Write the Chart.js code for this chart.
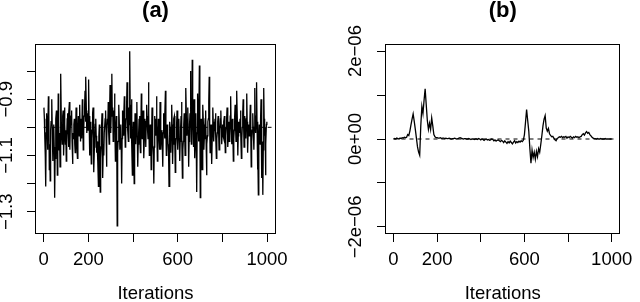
<!DOCTYPE html>
<html><head><meta charset="utf-8">
<script src="https://cdn.jsdelivr.net/npm/chart.js@4.4.1/dist/chart.umd.min.js"></script>
<style>
html,body{margin:0;padding:0;background:#fff;}
#wrap{position:relative;width:640px;height:302px;overflow:hidden;background:#fff;}
.pane{position:absolute;top:0;width:320px;height:302px;}
</style></head><body>
<div id="wrap">
<div class="pane" style="left:0"><canvas id="ca" width="320" height="302"></canvas></div>
<div class="pane" style="left:320px"><canvas id="cb" width="320" height="302"></canvas></div>
</div>
<script>
// ---- data ----
const panelTitles = ['(a)', '(b)'];
const xTitle = 'Iterations';
const xTickValues = [0, 200, 400, 600, 800, 1000];
const xTickLabels = ['0', '200', '', '600', '', '1000'];
const yTickValuesA = [-1.3, -1.2, -1.1, -1.0, -0.9, -0.8];
const yTickLabelsA = ['\u22121.3', '', '\u22121.1', '', '\u22120.9', ''];
const yTickValuesB = [-2e-6, -1e-6, 0, 1e-6, 2e-6];
const yTickLabelsB = ['\u22122e\u221206', '', '0e+00', '', '2e\u221206'];
const meanA = -1.0;
const meanB = 0;
// panel (a): value every 2nd iteration, starting at iteration 1
const iterStartA = 1, iterStepA = 2;
const traceA = [
 -0.93,-0.97,-1.04,-1.10,-1.21,-1.02,-0.95,-0.99,-1.08,-1.03,-0.89,-0.96,-1.15,-1.06,-1.19,-1.01,-0.98,-0.92,-0.90,-1.04,
 -1.12,-1.00,-0.99,-1.07,-1.25,-1.11,-1.05,-0.97,-0.94,-1.03,-1.17,-1.09,-0.88,-0.98,-1.08,-1.02,-1.14,-0.95,-0.81,-0.99,
 -1.03,-1.06,-0.96,-0.94,-1.10,-1.04,-0.93,-0.99,-1.06,-1.01,-1.12,-1.03,-0.97,-0.95,-1.02,-1.07,-0.95,-0.91,-1.08,-1.00,
 -1.00,-0.96,-0.94,-1.05,-1.13,-1.02,-1.04,-0.99,-0.97,-1.06,-1.09,-1.01,-0.93,-0.98,-1.06,-1.11,-1.01,-0.96,-0.98,-1.03,
 -0.92,-1.00,-1.05,-0.97,-0.99,-1.04,-0.90,-0.95,-1.08,-1.01,-0.96,-0.93,-0.87,-0.98,-0.82,-0.94,-1.02,-0.97,-0.95,-1.01,
 -0.83,-0.96,-1.10,-1.02,-0.98,-1.06,-1.13,-1.04,-1.01,-0.95,-0.93,-1.00,-1.16,-1.07,-1.04,-0.99,-0.97,-1.03,-1.09,-1.05,
 -1.05,-1.12,-1.21,-1.03,-0.99,-1.08,-1.23,-1.11,-1.07,-1.00,-0.95,-1.04,-1.18,-1.06,-1.10,-1.02,-1.02,-0.97,-0.94,-1.01,
 -1.14,-1.04,-0.97,-0.99,-0.91,-1.02,-1.06,-0.95,-0.85,-0.98,-1.02,-0.93,-0.81,-0.96,-0.93,-1.05,-1.00,-0.94,-0.88,-0.97,
 -1.12,-1.01,-0.96,-1.04,-1.35,-1.09,-1.05,-0.97,-0.92,-1.00,-1.08,-1.03,-0.99,-1.06,-1.20,-1.04,-0.94,-0.99,-1.03,-0.97,
 -0.89,-0.98,-1.07,-1.02,-0.97,-0.93,-0.84,-0.96,-1.01,-1.05,-0.93,-0.99,-0.73,-0.92,-1.04,-0.98,-0.90,-1.06,-1.17,-1.03,
 -0.98,-1.07,-1.20,-1.05,-0.95,-1.00,-1.06,-0.99,-0.91,-1.03,-1.14,-1.06,-1.02,-0.97,-0.96,-1.04,-1.09,-1.01,-0.88,-0.97,
 -1.04,-0.99,-0.94,-1.02,-1.11,-1.03,-0.97,-1.00,-1.07,-0.98,-0.92,-0.96,-1.01,-1.04,-0.84,-0.95,-1.10,-1.03,-0.99,-1.02,
 -1.15,-1.04,-0.93,-0.98,-1.06,-1.10,-1.20,-1.07,-0.96,-1.01,-1.03,-0.97,-0.89,-0.99,-1.12,-1.05,-0.97,-1.00,-1.05,-1.08,
 -0.91,-0.99,-1.08,-1.03,-1.01,-1.06,-1.14,-1.02,-0.95,-0.98,-1.04,-0.96,-0.87,-1.00,-1.10,-1.04,-0.99,-1.02,-1.06,-1.09,
 -1.21,-1.05,-0.98,-1.01,-1.09,-1.00,-0.92,-0.99,-1.13,-1.06,-1.02,-0.97,-0.96,-1.05,-1.16,-1.07,-1.04,-0.99,-0.94,-1.01,
 -1.08,-1.00,-0.97,-1.04,-1.12,-1.05,-1.00,-0.96,-0.91,-1.03,-1.18,-1.08,-1.05,-0.99,-0.95,-1.02,-1.10,-1.03,-0.86,-0.97,
 -1.03,-0.98,-0.93,-1.01,-1.14,-1.05,-0.99,-0.95,-0.80,-0.97,-1.06,-1.02,-0.76,-0.94,-1.01,-1.07,-0.90,-0.99,-1.11,-1.04,
 -0.95,-1.06,-1.23,-1.02,-0.88,-0.97,-1.05,-1.00,-0.78,-0.95,-1.25,-1.08,-0.97,-1.03,-1.15,-1.01,-0.92,-0.99,-1.08,-1.04,
 -1.01,-0.97,-0.94,-1.05,-1.17,-1.06,-1.03,-0.98,-0.97,-0.91,-0.82,-0.99,-1.09,-1.03,-0.99,-1.05,-1.13,-1.02,-0.93,-0.98,
 -1.05,-1.01,-1.00,-0.97,-0.95,-1.03,-1.11,-1.04,-1.02,-0.98,-0.96,-1.01,-1.08,-1.03,-1.01,-0.97,-0.94,-1.00,-1.06,-1.02,
 -0.99,-1.03,-1.04,-0.98,-0.96,-1.02,-1.09,-1.03,-1.00,-0.97,-0.93,-1.01,-1.07,-1.02,-0.98,-1.05,-1.03,-0.96,-0.89,-0.99,
 -1.06,-1.00,-0.97,-1.03,-1.12,-1.04,-1.01,-0.96,-0.92,-1.00,-1.05,-0.99,-0.87,-0.98,-1.10,-1.03,-0.98,-1.01,-1.02,-0.97,
 -0.94,-1.02,-1.11,-1.04,-1.00,-0.95,-0.90,-0.99,-1.07,-1.02,-0.96,-1.00,-1.04,-0.97,-0.88,-0.98,-1.09,-1.03,-0.99,-1.01,
 -1.03,-0.98,-0.92,-1.02,-1.14,-1.05,-1.01,-0.97,-0.95,-1.03,-1.08,-1.00,-0.86,-0.99,-1.02,-0.96,-0.84,-0.98,-1.15,-1.06,
 -1.24,-1.03,-0.99,-1.02,-1.06,-0.97,-0.90,-1.01,-1.18,-1.05,-1.24,-1.08,-0.86,-0.97,-1.03,-1.00,-1.17,-1.06,-0.99,-0.98
];
// panel (b): value every 5th iteration from 0, in units of 1e-06
const iterStepB = 5;
const unitB = 1e-6;
const traceB = [
 0.00, 0.01, 0.00, 0.02, 0.01, 0.00, 0.02, 0.01, 0.03, 0.02,
 0.04, 0.03, 0.04, 0.10, 0.08, 0.18, 0.32, 0.45, 0.57, 0.40,
 0.22, 0.02,-0.18,-0.30,-0.37, 0.30, 0.74, 0.58, 0.88, 1.14,
 0.78, 0.42, 0.22, 0.36, 0.22, 0.48, 0.30, 0.10, 0.05, 0.03,
 0.03, 0.02, 0.02, 0.03, 0.01, 0.02, 0.02, 0.01, 0.02, 0.01,
 0.01, 0.02, 0.01, 0.00, 0.01, 0.01, 0.02, 0.01, 0.00, 0.01,
 0.02, 0.03, 0.02, 0.01, 0.00, 0.01, 0.01, 0.00, 0.00, 0.01,
 0.00,-0.01, 0.00, 0.00,-0.01, 0.00,
 0.00,-0.01, 0.01, 0.00,-0.02, 0.00,-0.01,-0.03,-0.01, 0.00,
-0.02,-0.01,-0.03,-0.02, 0.00,-0.01,-0.04,-0.02,-0.05,-0.03,
-0.02,-0.04,-0.06,-0.03,
-0.05,-0.08,-0.04,-0.07,-0.10,-0.06,-0.09,-0.05,-0.08,-0.11,
-0.07,-0.04,-0.09,-0.06,-0.08,-0.05,-0.07,-0.04,-0.06,-0.03,
 0.10, 0.38, 0.67, 0.42, 0.18,-0.22,-0.55,-0.25,-0.42,-0.30,
-0.46,-0.28,-0.40,-0.22,-0.30,-0.12, 0.08, 0.30, 0.45, 0.53,
 0.25,
 0.18, 0.24, 0.12, 0.08, 0.05, 0.06, 0.02,-0.02,-0.04, 0.01,
 0.03, 0.05, 0.04, 0.06, 0.03, 0.05, 0.04, 0.06, 0.02, 0.05,
 0.03, 0.06, 0.04, 0.02, 0.05, 0.03, 0.06, 0.04, 0.05, 0.03,
 0.05, 0.06, 0.10, 0.12, 0.09, 0.14, 0.17, 0.13, 0.15, 0.10,
 0.07, 0.04, 0.02, 0.01,
 0.01, 0.00, 0.01, 0.00, 0.00, 0.01, 0.00, 0.00, 0.00, 0.01,
 0.00, 0.00, 0.00, 0.00, 0.00, 0.00
];

// ---- drawing ----
const FONT = "'Liberation Sans', Arial, Helvetica, sans-serif";
const boxPlugin = {
  id: 'box',
  afterDraw(chart) {
    const {ctx, chartArea: a} = chart;
    ctx.save();
    ctx.strokeStyle = '#000';
    ctx.lineWidth = 1;
    const l = Math.round(a.left) + 0.5, t = Math.round(a.top) + 0.5;
    const r = Math.round(a.right) - 0.5, b = Math.round(a.bottom) - 0.5;
    ctx.strokeRect(l, t, r - l, b - t);
    ctx.restore();
  }
};

function makePanel(canvasId, cfg) {
  const traceData = cfg.values.map((v, i) => ({x: cfg.iterStart + i * cfg.iterStep, y: v * cfg.unit}));
  const meanData = [{x: 0, y: cfg.mean}, {x: 1020, y: cfg.mean}];
  const tickMarks = {display: true, drawOnChartArea: false, drawTicks: true, tickLength: 8, color: '#000', lineWidth: 1};
  return new Chart(document.getElementById(canvasId), {
    type: 'line',
    data: {
      datasets: [
        {data: meanData, borderColor: '#000', borderWidth: 1, borderDash: [4, 4], pointRadius: 0, fill: false, order: 0},
        {data: traceData, borderColor: '#000', borderWidth: 1.3, pointRadius: 0, fill: false, tension: 0, order: 1}
      ]
    },
    plugins: [boxPlugin],
    options: {
      responsive: false, animation: false, devicePixelRatio: 1,
      events: [],
      layout: {padding: {left: 0, right: cfg.padRight, top: 0, bottom: 0}},
      plugins: {
        legend: {display: false},
        tooltip: {enabled: false},
        title: {display: true, text: cfg.title, fullSize: false, color: '#000',
          font: {family: FONT, size: 22, weight: 'bold', lineHeight: 1},
          padding: {top: 0, bottom: 22}}
      },
      scales: {
        x: {
          type: 'linear', min: -39, max: 1040,
          afterBuildTicks: s => { s.ticks = xTickValues.map(v => ({value: v})); },
          ticks: {autoSkip: false, minRotation: 0, maxRotation: 0, padding: 7, color: '#000',
            font: {family: FONT, size: 18.5},
            callback: (v, i) => xTickLabels[i]},
          grid: tickMarks,
          border: {display: false},
          title: {display: true, text: xTitle, color: '#000',
            font: {family: FONT, size: 18.5, lineHeight: 0.92}, padding: {top: 0, bottom: 0}},
          afterFit: s => { s.height = 68; }
        },
        y: {
          type: 'linear', min: cfg.yMin, max: cfg.yMax,
          afterBuildTicks: s => { s.ticks = cfg.yTicks.map(v => ({value: v})); },
          ticks: {autoSkip: false, minRotation: 90, maxRotation: 90, crossAlign: 'center', padding: cfg.yPad,
            color: '#000', font: {family: FONT, size: 18.5},
            callback: (v, i) => cfg.yLabels[i]},
          grid: tickMarks,
          border: {display: false},
          afterFit: s => { s.width = cfg.yWidth; }
        }
      }
    }
  });
}

makePanel('ca', {
  title: panelTitles[0], values: traceA, iterStart: iterStartA, iterStep: iterStepA, unit: 1,
  mean: meanA, yMin: -1.379, yMax: -0.704, yTicks: yTickValuesA, yLabels: yTickLabelsA,
  yPad: 2, yWidth: 35, padRight: 44
});
makePanel('cb', {
  title: panelTitles[1], values: traceB, iterStart: 0, iterStep: iterStepB, unit: unitB,
  mean: meanB, yMin: -2.16e-6, yMax: 2.16e-6, yTicks: yTickValuesB, yLabels: yTickLabelsB,
  yPad: -10.4, yWidth: 65, padRight: 12
});
</script>
</body></html>
